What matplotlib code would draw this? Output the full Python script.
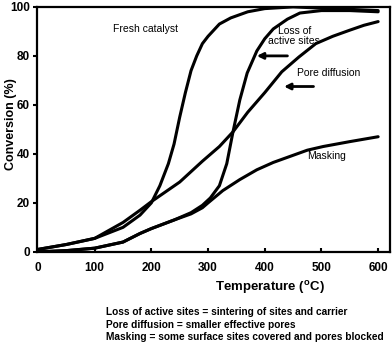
import matplotlib
matplotlib.use("Agg")
import matplotlib.pyplot as plt

plt.rcParams['font.family'] = ['Liberation Sans', 'DejaVu Sans']

# curves (temperature in C, conversion in %)
fresh_x = [0, 50, 100, 150, 180, 200, 215, 230, 240, 250, 260, 270, 280, 290, 300, 320, 340, 370, 400, 450, 500, 550, 600]
fresh_y = [1, 3, 5.5, 10, 15, 20, 27, 36, 44, 55, 65, 74, 80, 85, 88, 93, 95.5, 98, 99.3, 100, 99.5, 99, 98.5]

pore_x = [0, 50, 100, 150, 180, 200, 250, 290, 320, 344, 370, 400, 430, 460, 490, 520, 550, 575, 600]
pore_y = [1, 3, 5.5, 12, 17, 20.5, 28.5, 37, 43, 49, 57, 65, 73.5, 79.5, 85, 88, 90.5, 92.5, 94]

loss_x = [0, 50, 100, 150, 180, 200, 240, 270, 290, 304, 320, 333, 344, 356, 369, 386, 400, 415, 440, 462, 500, 550, 600]
loss_y = [0, 0.5, 1.5, 4, 7.5, 9.5, 13, 16, 19, 22, 27, 36, 49, 62, 73, 82, 87, 91, 95, 97.5, 98.5, 98.5, 98]

mask_x = [0, 50, 100, 150, 180, 200, 240, 270, 290, 300, 326, 356, 386, 415, 445, 475, 503, 550, 600]
mask_y = [0, 0.5, 1.5, 4, 7.5, 9.5, 13, 15.5, 18, 20, 25, 29.5, 33.5, 36.5, 39, 41.5, 43, 45, 47]

xticks = [0, 100, 200, 300, 400, 500, 600]
yticks = [0, 20, 40, 60, 80, 100]

captions = [
    "Loss of active sites = sintering of sites and carrier",
    "Pore diffusion = smaller effective pores",
    "Masking = some surface sites covered and pores blocked",
]

fig = plt.figure(figsize=(3.92, 3.45), dpi=100)
ax = fig.add_axes([0.094, 0.270, 0.901, 0.710])

for xs, ys in [(fresh_x, fresh_y), (pore_x, pore_y), (loss_x, loss_y), (mask_x, mask_y)]:
    ax.plot(xs, ys, color='black', lw=2.2, solid_capstyle='round')

ax.set_xlim(-2, 621)
ax.set_ylim(0, 100)
ax.set_xticks(xticks)
ax.set_yticks(yticks)
ax.tick_params(axis='x', direction='in', length=3, width=1.5, labelsize=8.5, pad=7)
ax.tick_params(axis='y', direction='out', length=3, width=1.5, labelsize=8.5, pad=2)
for lab in ax.get_xticklabels() + ax.get_yticklabels():
    lab.set_fontweight('bold')
for s in ax.spines.values():
    s.set_linewidth(1.6)

ax.set_xlabel("Temperature ($^{\\mathregular{o}}$C)", fontsize=9.5, fontweight='bold', labelpad=4, x=0.66)
ax.set_ylabel("Conversion (%)", fontsize=9, fontweight='bold')
ax.yaxis.set_label_coords(-0.056, 0.52)

ax.text(132, 91, "Fresh catalyst", fontsize=7.5, va='center')
ax.text(452, 88, "Loss of\nactive sites", fontsize=7.5, va='center', ha='center', linespacing=0.95)
ax.text(457, 73, "Pore diffusion", fontsize=7.5, va='center')
ax.text(475, 39, "Masking", fontsize=7.5, va='center')

arrow = dict(arrowstyle='-|>', color='black', lw=2, mutation_scale=9, shrinkA=0, shrinkB=0)
ax.annotate("", xy=(386, 80), xytext=(440, 80), arrowprops=arrow)
ax.annotate("", xy=(434, 67.5), xytext=(486, 67.5), arrowprops=arrow)

for i, line in enumerate(captions):
    fig.text(106 / 392, 1 - (312 + 12.5 * i) / 345, line, fontsize=7.3, fontweight='bold', va='center')

fig.savefig("out.png", dpi=100)
